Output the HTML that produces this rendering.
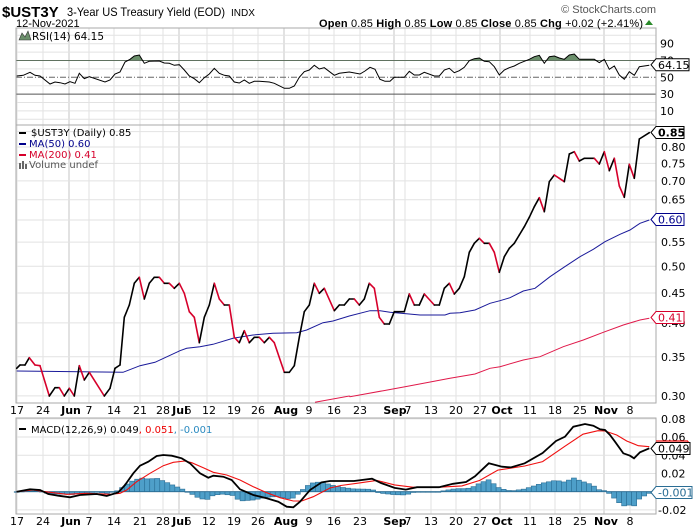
<!DOCTYPE html>
<html><head><meta charset="utf-8">
<style>
html,body{margin:0;padding:0;background:#fff;}
svg{display:block;font-family:"DejaVu Sans","Liberation Sans",sans-serif;}
</style></head>
<body>
<svg id="s" width="700" height="530" viewBox="0 0 700 530" xmlns="http://www.w3.org/2000/svg">
<defs>
<clipPath id="cr"><rect x="16" y="28" width="640" height="33"/></clipPath>
<clipPath id="cp"><rect x="16" y="125" width="640" height="278"/></clipPath>
<clipPath id="cm"><rect x="16" y="418" width="640" height="96"/></clipPath>
</defs>
<rect width="700" height="530" fill="#fff"/>
<g id="grid"></g>
<g id="series"></g>
<!-- header -->
<text x="2" y="17" font-size="15" font-weight="bold" font-family="Liberation Sans, sans-serif">$UST3Y</text>
<text x="67" y="16" font-size="12" font-family="Liberation Sans, sans-serif" textLength="158" lengthAdjust="spacingAndGlyphs">3-Year US Treasury Yield (EOD)</text>
<text x="231" y="16" font-size="10" font-family="Liberation Sans, sans-serif">INDX</text>
<text x="16" y="27" font-size="11" font-family="Liberation Sans, sans-serif">12-Nov-2021</text>
<text x="656" y="13" font-size="11" fill="#555" text-anchor="end" font-family="Liberation Sans, sans-serif">© StockCharts.com</text>
<text x="319" y="27" font-size="11" font-family="Liberation Sans, sans-serif" textLength="324" lengthAdjust="spacing"><tspan font-weight="bold">Open</tspan> 0.85  <tspan font-weight="bold">High</tspan> 0.85  <tspan font-weight="bold">Low</tspan> 0.85  <tspan font-weight="bold">Close</tspan> 0.85  <tspan font-weight="bold">Chg</tspan> +0.02 (+2.41%)</text>
<polygon points="645,25 653,25 649,20" fill="#2a8a2a"/>
<!-- legends -->
<polygon points="19,40 22,33 25,37 28,31 31,40" fill="#6b8f6b" stroke="#333" stroke-width="0.6"/>
<text x="32" y="40" font-size="10.5">RSI(14) 64.15</text>
<rect x="19" y="132" width="7" height="2" fill="#000"/>
<text x="31" y="136" font-size="10">$UST3Y (Daily) 0.85</text>
<rect x="19" y="143" width="7" height="2" fill="#00008b"/>
<text x="29" y="147" font-size="10" fill="#00008b">MA(50) 0.60</text>
<rect x="19" y="154" width="7" height="2" fill="#d6002b"/>
<text x="29" y="158" font-size="10" fill="#d6002b">MA(200) 0.41</text>
<g fill="#666"><rect x="19" y="163" width="2" height="6"/><rect x="22" y="161" width="2" height="8"/><rect x="25" y="164" width="2" height="5"/></g>
<text x="29" y="168" font-size="10" fill="#555">Volume undef</text>
<rect x="19" y="428" width="7" height="2" fill="#000"/>
<text x="31" y="433" font-size="10">MACD(12,26,9) 0.049<tspan fill="#e00">, 0.051</tspan><tspan fill="#2a8ac0">, -0.001</tspan></text>
<g id="labels"></g>
</svg>
<script>
var NS="http://www.w3.org/2000/svg";
function el(p,t,a,txt){var e=document.createElementNS(NS,t);for(var k in a)e.setAttribute(k,a[k]);if(txt!=null)e.textContent=txt;p.appendChild(e);return e;}
var G=document.getElementById('grid'),S=document.getElementById('series'),L=document.getElementById('labels');
var L0=16,R0=656;
var weeks=[17,43,89,114,140,163,207,233,258,309,334,360,405,431,456,480,530,555,580,630];
var months=[69,179,284,394,500,604];
[[28,125],[125,403],[418,514]].forEach(function(p){
 weeks.forEach(function(x){el(G,'line',{x1:x,x2:x,y1:p[0],y2:p[1],stroke:'#e2e2e2','stroke-width':1});});
 months.forEach(function(x){el(G,'line',{x1:x,x2:x,y1:p[0],y2:p[1],stroke:'#c4c4c4','stroke-width':1});});
});
function ry(v){return 77.3-(v-50)*0.84;}
[100,90,80,60,40,20,10,0].forEach(function(v){var y=ry(v);if(y>28&&y<125)el(G,'line',{x1:L0,x2:R0,y1:y,y2:y,stroke:'#e2e2e2'});});
[70,30].forEach(function(v){el(G,'line',{x1:L0,x2:R0,y1:ry(v),y2:ry(v),stroke:'#555'});});
el(G,'line',{x1:L0,x2:R0,y1:ry(50),y2:ry(50),stroke:'#666','stroke-dasharray':'6,2,1,2'});
[90,70,50,30,10].forEach(function(v){el(L,'text',{x:660,y:ry(v)+4,'font-size':11},String(v));});
function py(v){return 147-253.8*Math.log(v/0.8);}
for(var v=0.30;v<0.851;v+=0.05){var y=py(v);el(G,'line',{x1:L0,x2:R0,y1:y,y2:y,stroke:'#e2e2e2'});
 var s=v.toFixed(2);if(s!="0.85"&&s!="0.60")el(L,'text',{x:661,y:y+4,'font-size':11},s);}
function my(v){return 491.7-v*911;}
[0.08,0.06,0.04,0.02,0,-0.02].forEach(function(v){var y=my(v);el(G,'line',{x1:L0,x2:R0,y1:y,y2:y,stroke:'#e2e2e2'});});
[['0.08',0.08],['0.06',0.06],['0.04',0.04],['0.02',0.02],['-0.02',-0.02]].forEach(function(a){el(L,'text',{x:(a[1]<0?658:661),y:my(a[1])+4,'font-size':11},a[0]);});
[[28,125],[125,403],[418,514]].forEach(function(p){el(G,'rect',{x:L0,y:p[0],width:R0-L0,height:p[1]-p[0],fill:'none',stroke:'#aaa'});});
var days=[[17,'17'],[43,'24'],[89,'7'],[114,'14'],[140,'21'],[163,'28'],[188,'6'],[209,'12'],[234,'19'],[258,'26'],[309,'9'],[334,'16'],[360,'23'],[408,'7'],[431,'13'],[456,'20'],[480,'27'],[530,'11'],[555,'18'],[580,'25'],[630,'8']];
var mon=[[71,'Jun'],[180,'Jul'],[286,'Aug'],[395,'Sep'],[502,'Oct'],[606,'Nov']];
[414,525].forEach(function(y){
 days.forEach(function(d){el(L,'text',{x:d[0],y:y,'font-size':11,'text-anchor':'middle'},d[1]);});
 mon.forEach(function(d){el(L,'text',{x:d[0],y:y,'font-size':11,'font-weight':'bold','text-anchor':'middle'},d[1]);});
});
function pts(a){return a.map(function(p){return p[0]+','+p[1];}).join(' ');}
var rsi=[[16.7,76],[23.3,75.3],[30,72.3],[35,75.3],[40,76],[50,84],[55,82],[60,82.7],[65,84],[70,81.7],[75,83.3],[79.3,73.3],[84.3,78.7],[89.3,76.7],[105,82],[110,80],[115,74],[120,72],[125,62],[130,59.3],[134.3,56],[139.3,55],[144.3,63.3],[149.3,61.3],[159.3,61],[164.3,63],[169.3,63.3],[174.3,65.3],[179.3,64.7],[184.3,70],[189.3,76],[194.3,78.7],[199.3,82.7],[204.3,77.7],[209.3,74],[214.3,68.3],[219.3,73.3],[224.3,75.3],[229.3,76],[234.3,82],[239.3,83],[244.3,80],[249.3,83.3],[254.3,81.3],[259.3,81.3],[269.3,82],[274.3,83.3],[284.3,88.3],[289.3,88.3],[294.3,86],[299.3,77.3],[304.3,71.7],[309.3,70],[314.3,65.3],[319.3,69],[324.3,67.7],[334.3,75.3],[339.3,73.3],[349.3,72],[360,74],[365,71],[370,67.3],[375,69.3],[380,79.3],[385,81.3],[390,81.3],[394.3,77.3],[404.3,77.3],[409.3,71.3],[414.3,75],[419.3,75],[424.3,72.3],[434.3,76],[439.3,76],[444.3,70],[449.3,68.3],[454.3,72.7],[459.3,70.7],[464.3,67.3],[469.3,60.7],[474.3,58.7],[479.3,58],[484.3,61.3],[489.3,61.7],[494.3,66.7],[499.3,75],[504.3,70],[509.3,67.7],[514.3,66],[519.3,63.3],[524.3,61.3],[529.3,59.3],[534.3,56.7],[539.3,55.3],[544.3,63.3],[549.3,56.7],[554.3,56],[559.3,58],[564.3,59.3],[569.3,55],[574.3,54],[579.3,59.3],[594.3,59.3],[599.3,62.7],[604.3,59.3],[609.3,69.3],[614.3,66],[619.3,75],[624.3,79.3],[629.3,71.7],[634.3,75.3],[639.3,66.7],[649.3,65.3]];
var r70=ry(70);
el(S,'polygon',{points:pts(rsi)+' 649.3,'+r70+' 16.7,'+r70,fill:'#6b8f6b','clip-path':'url(#cr)'});
el(S,'polyline',{points:pts(rsi),fill:'none',stroke:'#000','stroke-width':1});
var ma200=[[315,402.3],[349.3,396],[350,396.7],[383.3,390.7],[405,386.7],[450,378.3],[475,374],[490,368.3],[500,366.7],[523.3,360],[540,356.7],[563.3,346.7],[583.3,340],[603.3,332.3],[623.3,325],[640,320],[649.3,318.3]];
var ma50=[[16.7,371],[123,372.3],[140,365.7],[155,362.3],[180,350.7],[186.7,348.3],[200,346.7],[213,344.3],[233,338.3],[253,335],[273,333.3],[296.7,332.7],[306.7,330],[323,322.7],[333,321],[349.3,316],[370,310.7],[380,310.7],[390,312.3],[420,315],[445,315],[450,313.3],[460,312.7],[475,310],[490,303.3],[500,300.7],[510,297.7],[523.3,291],[535,288.3],[550,276.7],[563.3,267.7],[580,256.7],[593.3,249.3],[605,241.7],[620,234.3],[630,230],[640,223.3],[649.3,220]];
el(S,'polyline',{points:pts(ma200),fill:'none',stroke:'#e0194a','stroke-width':1,'clip-path':'url(#cp)'});
el(S,'polyline',{points:pts(ma50),fill:'none',stroke:'#1a1a9a','stroke-width':1});
var pr=[[16.7,368.3],[20,365],[25,365],[29.3,357.7],[35,365],[40,365.7],[49.3,396],[55,387.7],[59.3,387.7],[64.3,396],[69.3,388.3],[74.3,396],[79.3,365.7],[84.3,380],[89.3,372.3],[104.3,396],[110,388.3],[115,368.3],[120,365],[124.3,317.3],[129.3,305],[134.3,283.3],[139.3,277.3],[144.3,299],[149.3,283.3],[154.3,277.3],[159.3,277.3],[164.3,283.3],[169.3,283.3],[174.3,288.3],[179.3,283.3],[184.3,293.3],[189.3,311.7],[194.3,317.3],[199.3,342.7],[204.3,317.3],[209.3,305],[214.3,283.3],[219.3,299],[224.3,305],[229.3,305],[234.3,337.3],[239.3,342.7],[244.3,330.7],[249.3,342.7],[254.3,337.3],[259.3,337.3],[264.3,342.7],[269.3,337.3],[274.3,342.7],[284.3,372.3],[289.3,372.3],[294.3,365.7],[299.3,337.3],[304.3,311.7],[309.3,305],[314.3,283.3],[319.3,293.3],[324.3,288.3],[334.3,310.7],[339.3,305],[344.3,305],[349.3,299],[354.3,299],[359.3,305],[364.3,299],[369.3,283.3],[374.3,288.3],[379.3,317.3],[384.3,324],[389.3,324],[394.3,311.7],[404.3,311.7],[409.3,294],[414.3,305],[419.3,305],[424.3,294],[434.3,305],[439.3,305],[444.3,288.3],[449.3,283.3],[454.3,294],[459.3,288.3],[464.3,276.7],[469.3,252.3],[474.3,243.3],[479.3,238.3],[484.3,243.3],[489.3,243.3],[494.3,252.3],[499.3,272.3],[504.3,256.7],[509.3,248.3],[514.3,243.3],[519.3,235],[524.3,226.7],[529.3,217.3],[534.3,206.7],[539.3,197.7],[544.3,211.7],[549.3,181.7],[554.3,175],[559.3,178.3],[564.3,181.7],[569.3,154],[574.3,151.7],[579.3,161],[584.3,158.3],[594.3,158.3],[599.3,164],[604.3,151.7],[609.3,170.7],[614.3,158.3],[619.3,186],[624.3,197.3],[629.3,164.3],[634.3,178.3],[639.3,139],[649.3,132.7]];
for(var i=1;i<pr.length;i++){var a=pr[i-1],b=pr[i];
 el(S,'line',{x1:a[0],y1:a[1],x2:b[0],y2:b[1],stroke:(b[1]>a[1]+0.5?'#d6002b':'#000'),'stroke-width':1.6,'stroke-linecap':'round'});}
var mb=[[16.7,491.7],[30,489.3],[40,490],[48.3,494],[58.3,495.7],[70,497.3],[80,495],[96.7,494],[106.7,496],[118.3,492.3],[125,485],[133.3,473.3],[140,465.7],[148.3,461.7],[156.7,456],[163.3,455],[171.7,455.7],[181.7,458.3],[190,463.3],[200,473.3],[208.3,477.7],[213.3,475.7],[223.3,476.7],[231.7,480],[240,489.3],[253.3,495],[266.7,498.3],[278.3,501.7],[286.7,506.7],[293.3,507.3],[300,501.7],[310,490],[321.7,482.3],[330,481],[354,481],[372,478.7],[381,483],[394.6,487.9],[405.8,489.6],[417,487.2],[439,487.2],[453,483.8],[466,482],[475,476.3],[488.8,463.3],[502,466.7],[511,467.4],[524.7,463.3],[542.6,453],[556,441],[565,436.7],[573.3,426.7],[585,424],[593.3,425.7],[600,429.3],[605,430],[610,435],[615,441.7],[623.3,453.3],[630,455.7],[634,458.3],[640,452.3],[649.3,448.3]];
var ms=[[16.7,491.7],[33,490],[50,492.3],[66.7,494.3],[86.7,493.3],[110,494.3],[120,493.3],[126.7,490],[136.7,481.7],[150,473.3],[163.3,465.7],[173.3,462.3],[185,461],[191.7,462.7],[203.3,467.7],[213.3,472.3],[226.7,475],[240,480],[253.3,486.7],[266.7,492.7],[280,497.7],[293.3,501],[301.7,501],[313.3,496.7],[330,488],[340.8,485.5],[358.7,483.1],[376.7,480.4],[394.6,484.9],[412.6,487.2],[439.5,487.2],[461.9,485.9],[479.8,480.4],[497.8,470.1],[524.7,466],[542.6,461.6],[565,446.2],[583,434.2],[598,430.7],[605,431],[616.7,435],[626.7,441],[638.3,445.7],[649.3,446.7]];
function interp(a,x){for(var i=1;i<a.length;i++){if(x<=a[i][0]){var p=a[i-1],q=a[i];var t=(x-p[0])/(q[0]-p[0]||1);return p[1]+t*(q[1]-p[1]);}}return a[a.length-1][1];}
var z=491.7;
for(var x=16.7;x<=650;x+=5.02){
 var h=interp(mb,x)-interp(ms,x);
 var y0=Math.min(z,z+h),hh=Math.abs(h);
 if(hh<0.6)hh=0.6;
 el(S,'rect',{x:x-2.5,y:y0,width:5,height:hh,fill:'#4e9fc9',stroke:'#2a6d94','stroke-width':0.6});
}
el(S,'line',{x1:L0,x2:R0,y1:z,y2:z,stroke:'#2a6d94','stroke-width':0.8});
el(S,'polyline',{points:pts(ms),fill:'none',stroke:'#f01010','stroke-width':1.1});
el(S,'polyline',{points:pts(mb),fill:'none',stroke:'#000','stroke-width':1.8});
function box(y,txt,col,bold,w){
 var g=el(L,'g',{});
 el(g,'polygon',{points:'651,'+y+' 656,'+(y-6)+' '+(656+w)+','+(y-6)+' '+(656+w)+','+(y+6)+' 656,'+(y+6),fill:'#fff',stroke:col,'stroke-width':1});
 el(g,'text',{x:658,y:y+4,'font-size':11,fill:(col=='#000'?'#000':col),'font-weight':bold?'bold':'normal'},txt);
}
box(64.8,'64.15','#000',false,33);
box(132.5,'0.85','#000',true,28);
box(219.5,'0.60','#00008b',false,28);
box(317.5,'0.41','#d6002b',false,28);
el(L,'line',{x1:656,x2:688,y1:441,y2:441,stroke:'#f01010','stroke-width':1.2});
el(L,'line',{x1:688,x2:688,y1:441,y2:448,stroke:'#f01010','stroke-width':1.2});
box(448.5,'0.049','#000',false,34);
box(492.5,'-0.001','#2a6d94',false,36);
</script>
</body></html>
